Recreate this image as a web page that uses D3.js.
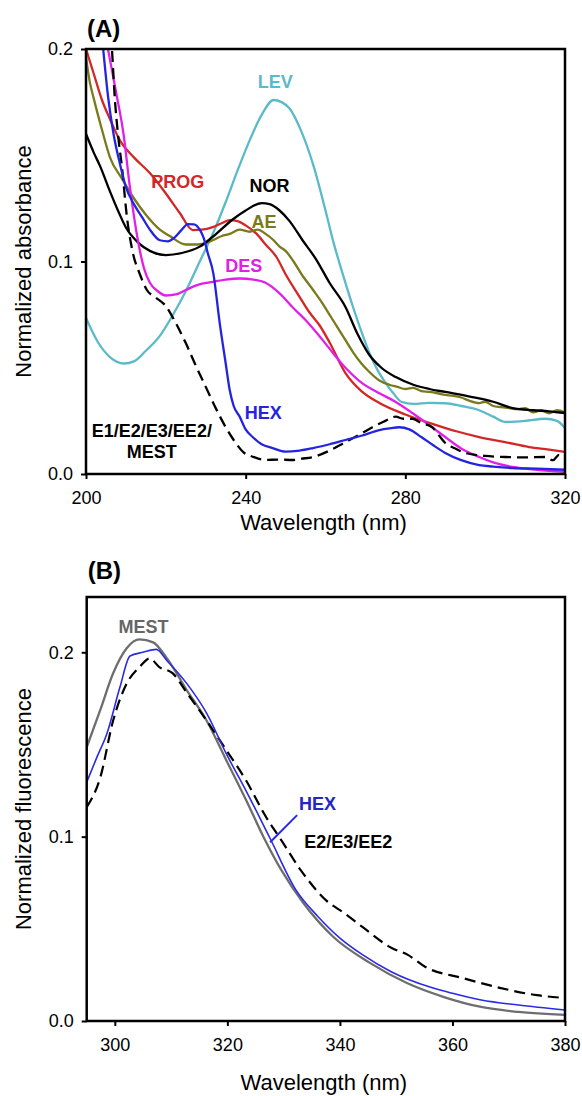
<!DOCTYPE html>
<html>
<head>
<meta charset="utf-8">
<script src="https://cdn.jsdelivr.net/npm/d3@7.9.0/dist/d3.min.js"></script>
<style>
  body { margin: 0; background: #fff; }
  svg { font-family: "Liberation Sans", Arial, sans-serif; }
  .tick text { font-size: 18px; fill: #000; }
  .tick line { stroke: #000; stroke-width: 2px; }
</style>
</head>
<body>
<svg id="chart" width="582" height="1096"></svg>
<script>
// panel A: absorbance spectra [wavelength nm, normalized absorbance]
const lev = [[200,0.0734],[203,0.062],[206,0.055],[209.5,0.052],[212,0.053],[215,0.058],[218.5,0.065],[221.5,0.074],[225,0.086],[228.5,0.1],[231.75,0.113],[235,0.128],[238,0.143],[241,0.157],[244,0.169],[247,0.176],[249,0.175],[251,0.172],[254,0.161],[257,0.145],[260,0.124],[262,0.109],[264.5,0.093],[267,0.078],[269,0.067],[271,0.057],[273,0.049],[275,0.043],[277,0.038],[279,0.034],[282,0.033],[286,0.0335],[290,0.0333],[294,0.032],[298.5,0.030],[302,0.027],[305,0.0245],[310,0.025],[315,0.026],[318,0.025],[320,0.0216]];
const nor = [[200,0.160],[202,0.151],[203.5,0.145],[206,0.133],[208,0.124],[210,0.116],[213,0.109],[216,0.105],[220,0.103],[224,0.104],[228.5,0.107],[232,0.112],[236.9,0.120],[240,0.124],[244,0.1275],[246,0.127],[248.5,0.124],[251,0.119],[254.25,0.110],[257.75,0.1007],[261,0.090],[265,0.0786],[268,0.066],[271,0.056],[274,0.050],[277.6,0.0456],[282,0.042],[286,0.040],[290,0.0386],[296.75,0.0362],[302,0.034],[306.9,0.031],[312,0.030],[316,0.0295],[320,0.0287]];
const prog = [[200,0.2],[202,0.188],[204,0.176],[206,0.167],[208.5,0.157],[212,0.149],[216,0.1416],[220,0.132],[223.5,0.1228],[226.75,0.1148],[229,0.115],[231.75,0.1162],[234,0.118],[236,0.1195],[238,0.119],[240,0.117],[242.75,0.113],[245,0.108],[247.75,0.102],[250,0.094],[253.5,0.0834],[256,0.076],[258.5,0.070],[261,0.062],[265,0.0475],[269,0.039],[273.5,0.0334],[280,0.028],[287.75,0.023],[293,0.020],[298.5,0.0174],[305,0.015],[311,0.0127],[316,0.0115],[320,0.0104]];
const ae = [[200,0.196],[201,0.184],[201.9,0.177],[204,0.162],[206,0.149],[209,0.139],[211.9,0.130],[215,0.122],[218.5,0.115],[221,0.112],[225,0.108],[228,0.108],[231.75,0.110],[234,0.112],[236,0.113],[238.5,0.115],[241,0.114],[243,0.115],[245,0.113],[247,0.110],[248.5,0.107],[250,0.105],[252,0.1],[254,0.094],[256.9,0.0866],[259,0.081],[261,0.075],[263,0.069],[265,0.063],[267,0.057],[269,0.052],[271,0.048],[273.5,0.044],[276,0.042],[278,0.041],[280,0.040],[282,0.0405],[284,0.039],[286,0.0386],[288,0.038],[290,0.0372],[292,0.0368],[294,0.036],[296,0.0345],[298.5,0.0334],[300,0.034],[302,0.032],[304,0.0315],[306,0.031],[308,0.0305],[310,0.031],[312,0.029],[314,0.030],[316,0.0285],[318,0.030],[320,0.029]];
const des = [[204,0.215],[205.5,0.2],[207.5,0.18],[209.4,0.160],[211,0.135],[213,0.110],[214.5,0.097],[216,0.090],[218,0.086],[220,0.084],[222.5,0.0845],[225,0.0866],[228,0.089],[231.75,0.0904],[235,0.0915],[238.5,0.092],[242,0.0915],[245,0.090],[248.5,0.085],[252,0.078],[255,0.0725],[258,0.066],[261,0.059],[265,0.050],[269,0.043],[273.5,0.038],[277.5,0.034],[281.75,0.0287],[286,0.023],[290,0.0174],[294,0.012],[298.5,0.008],[302,0.0055],[306.9,0.0033],[313,0.002],[320,0.001]];
const hexA = [[203.5,0.215],[204.3,0.2],[205.5,0.178],[206.9,0.160],[208.5,0.146],[210,0.135],[212,0.127],[214,0.121],[216,0.115],[218.5,0.110],[220.5,0.1095],[222,0.111],[224,0.115],[225.5,0.1176],[227,0.1175],[228.5,0.115],[229.5,0.111],[230.5,0.104],[231.9,0.0944],[233.5,0.071],[235,0.052],[236,0.0395],[237,0.032],[238.5,0.027],[240,0.021],[241.75,0.0174],[244,0.014],[246.75,0.0122],[250,0.0105],[253.5,0.011],[256.9,0.0122],[261,0.014],[265,0.016],[269,0.018],[273.5,0.0207],[276,0.0215],[278.5,0.022],[281,0.021],[284,0.0174],[287,0.0135],[290,0.0099],[294,0.0065],[298.5,0.0042],[302,0.0035],[306.9,0.0028],[313,0.0025],[320,0.002]];
const estrA = [[206,0.215],[206.5,0.2],[207.25,0.176],[208,0.16],[209,0.1445],[210.25,0.121],[211.75,0.104],[213.5,0.094],[215.25,0.0866],[217.5,0.083],[220,0.079],[222.5,0.071],[225,0.0616],[227.5,0.051],[230,0.041],[232.5,0.031],[235,0.022],[237,0.016],[239.4,0.0103],[242,0.008],[245,0.0066],[248,0.0068],[251.75,0.0066],[254,0.0072],[256.9,0.008],[261,0.011],[265,0.015],[268,0.018],[271.75,0.022],[275,0.025],[277.6,0.027],[279.5,0.026],[281.75,0.026],[284,0.024],[286.75,0.022],[288.5,0.018],[290,0.0146],[292.5,0.012],[295,0.0099],[300,0.0085],[305,0.008],[310,0.0078],[315,0.008],[317,0.0065],[318.5,0.009],[320,0.0075]];

// panel B: fluorescence spectra [wavelength nm, normalized fluorescence]
const mest = [[295,0.1485],[297.4,0.1686],[299.7,0.1886],[302.1,0.2022],[304.4,0.207],[306.8,0.2054],[309.2,0.197],[312.8,0.1794],[316.3,0.163],[319.8,0.1415],[323.3,0.12],[326.4,0.1],[329.6,0.0818],[333.5,0.064],[338.8,0.0457],[345.4,0.0314],[351.9,0.0206],[358.5,0.013],[365.1,0.0076],[371.7,0.0049],[380,0.0033]];
const hexB = [[295,0.1295],[296.8,0.143],[298.6,0.156],[300.9,0.181],[302.7,0.198],[305,0.200],[307.4,0.2016],[309.2,0.1957],[312.8,0.183],[316.3,0.167],[319.8,0.145],[323.3,0.125],[327.6,0.099],[332.2,0.071],[336,0.057],[340,0.045],[344,0.036],[349.2,0.0266],[356,0.0184],[360,0.015],[365.1,0.0114],[371.7,0.0087],[380,0.006]];
const estrB = [[295,0.116],[297.4,0.132],[299.7,0.163],[302.1,0.183],[304.4,0.192],[306.2,0.1967],[307.9,0.192],[310.3,0.1886],[312.8,0.178],[316.3,0.163],[319.8,0.147],[323.3,0.1306],[326.9,0.1105],[329.6,0.098],[333,0.082],[337.5,0.0656],[341,0.058],[344,0.051],[349.2,0.0396],[352,0.036],[355.2,0.0293],[361.8,0.0233],[368.4,0.018],[375,0.014],[380,0.0125]];

const ticksA_x = [200, 240, 280, 320];
const ticksA_y = [0, 0.1, 0.2];
const ticksB_x = [300, 320, 340, 360, 380];
const ticksB_y = [0, 0.1, 0.2];

const svg = d3.select('#chart');

function panel(cfg) {
    const x = d3.scaleLinear().domain(cfg.xdom).range([cfg.left, cfg.right]);
    const y = d3.scaleLinear().domain(cfg.ydom).range([cfg.bottom, cfg.top]);
    const g = svg.append('g');

    g.append('clipPath').attr('id', cfg.id)
        .append('rect').attr('x', cfg.left).attr('y', cfg.top)
        .attr('width', cfg.right - cfg.left).attr('height', cfg.bottom - cfg.top);

    const line = d3.line().x(d => x(d[0])).y(d => y(d[1])).curve(d3.curveMonotoneX);
    const lines = g.append('g').attr('clip-path', `url(#${cfg.id})`);
    cfg.series.forEach(s => {
        lines.append('path').datum(s.data)
            .attr('d', line)
            .attr('fill', 'none')
            .attr('stroke', s.color)
            .attr('stroke-width', s.width || 2.3)
            .attr('stroke-dasharray', s.dash || null);
    });

    // axes
    g.append('g').attr('transform', `translate(0,${cfg.bottom})`)
        .call(d3.axisBottom(x).tickValues(cfg.xticks).tickSize(5).tickPadding(12).tickFormat(d3.format('d')))
        .call(a => a.select('.domain').remove());
    g.append('g').attr('transform', `translate(${cfg.left},0)`)
        .call(d3.axisLeft(y).tickValues(cfg.yticks).tickSize(5).tickPadding(8).tickFormat(d3.format('.1f')))
        .call(a => a.select('.domain').remove());
    g.selectAll('.tick text').attr('font-family', null).attr('font-size', null);

    g.append('rect').attr('x', cfg.left).attr('y', cfg.top)
        .attr('width', cfg.right - cfg.left).attr('height', cfg.bottom - cfg.top)
        .attr('fill', 'none').attr('stroke', '#000').attr('stroke-width', 2.5);

    g.append('text').attr('x', cfg.left + 1).attr('y', cfg.titleY)
        .attr('font-size', 24).attr('font-weight', 'bold').text(cfg.title);
    g.append('text').attr('x', (cfg.left + cfg.right) / 2 - 2).attr('y', cfg.xlabY)
        .attr('text-anchor', 'middle').attr('font-size', 22).text('Wavelength (nm)');
    g.append('text')
        .attr('transform', `translate(31,${(cfg.top + cfg.bottom) / 2}) rotate(-90)`)
        .attr('text-anchor', 'middle').attr('font-size', 22).text(cfg.ylab);

    cfg.labels.forEach(l => {
        g.append('text').attr('x', x(l.at[0])).attr('y', y(l.at[1]))
            .attr('text-anchor', 'middle').attr('font-size', 18).attr('font-weight', 'bold')
            .attr('fill', l.color).text(l.text);
    });
    (cfg.leaders || []).forEach(l => {
        g.append('line').attr('x1', x(l.from[0])).attr('y1', y(l.from[1]))
            .attr('x2', x(l.to[0])).attr('y2', y(l.to[1]))
            .attr('stroke', l.color).attr('stroke-width', 2);
    });
}

panel({
    id: 'clipA', title: '(A)', ylab: 'Normalized absorbance',
    xdom: [200, 320], ydom: [0, 0.2],
    left: 86, right: 565, top: 49, bottom: 474, xlabY: 530, titleY: 37,
    xticks: ticksA_x, yticks: ticksA_y,
    series: [
        { data: lev, color: '#5bbac9' },
        { data: prog, color: '#d42626' },
        { data: ae, color: '#7a7a1c' },
        { data: nor, color: '#000' },
        { data: des, color: '#e020e8' },
        { data: estrA, color: '#000', dash: '11,6' },
        { data: hexA, color: '#2424e0' }
    ],
    labels: [
        { text: 'LEV', at: [247.4, 0.1816], color: '#5bbac9' },
        { text: 'PROG', at: [223, 0.1346], color: '#d42626' },
        { text: 'NOR', at: [246, 0.1327], color: '#000' },
        { text: 'AE', at: [244.6, 0.1158], color: '#7a7a1c' },
        { text: 'DES', at: [239.5, 0.0951], color: '#e020e8' },
        { text: 'HEX', at: [244.4, 0.0259], color: '#2424e0' },
        { text: 'E1/E2/E3/EE2/', at: [216.5, 0.0174], color: '#000' },
        { text: 'MEST', at: [216.5, 0.0075], color: '#000' }
    ]
});

panel({
    id: 'clipB', title: '(B)', ylab: 'Normalized fluorescence',
    xdom: [295, 380], ydom: [0, 0.23],
    left: 86.7, right: 565, top: 597, bottom: 1021, xlabY: 1090, titleY: 579,
    xticks: ticksB_x, yticks: ticksB_y,
    series: [
        { data: mest, color: '#6e6e6e', width: 2.3 },
        { data: estrB, color: '#000', dash: '11,6', width: 2.2 },
        { data: hexB, color: '#2a2ae6', width: 1.6 }
    ],
    labels: [
        { text: 'MEST', at: [305.1, 0.2103], color: '#666' },
        { text: 'HEX', at: [336, 0.1144], color: '#2424c8' },
        { text: 'E2/E3/EE2', at: [341.5, 0.0938], color: '#000' }
    ],
    leaders: [
        { from: [332.4, 0.1117], to: [327.6, 0.097], color: '#2a2ae6' }
    ]
});
</script>
</body>
</html>
